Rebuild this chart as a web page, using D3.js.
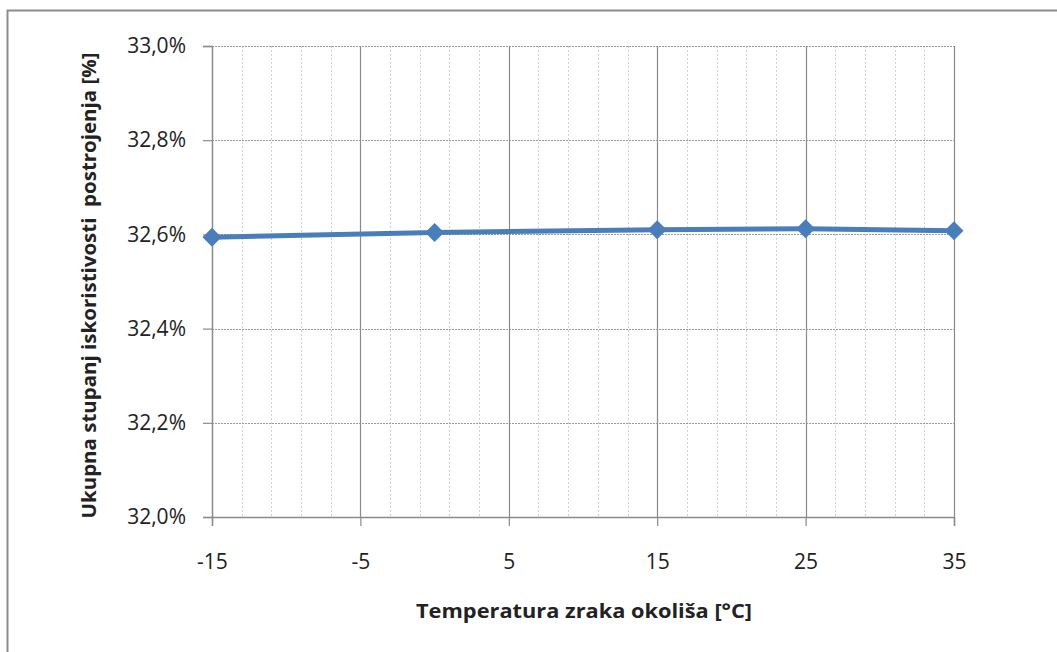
<!DOCTYPE html>
<html>
<head>
<meta charset="utf-8">
<script src="https://cdn.jsdelivr.net/npm/d3@7"></script>
<style>
  html, body { margin: 0; padding: 0; background: #fff; }
  svg { display: block; }
  text { font-family: "Open Sans", "Noto Sans", sans-serif; fill: #222; }
</style>
</head>
<body>
<svg id="chart" width="1057" height="652"></svg>
<script>
// Data
const temperatures = [-15, 0, 15, 25, 35];
const efficiency = [32.594, 32.604, 32.610, 32.612, 32.608];
const xTicks = [-15, -5, 5, 15, 25, 35];
const xMinorTicks = [-13, -11, -9, -7, -3, -1, 1, 3, 7, 9, 11, 13, 17, 19, 21, 23, 27, 29, 31, 33];
const yTicks = [32.0, 32.2, 32.4, 32.6, 32.8, 33.0];
const xTitle = "Temperatura zraka okoliša [°C]";
const yTitle = "Ukupna stupanj iskoristivosti\u00a0\u00a0postrojenja [%]";

const svg = d3.select("#chart");
const plot = { left: 212, right: 954, top: 46, bottom: 517 };

// Outer frame (right/bottom edges lie outside the picture)
svg.append("rect")
  .attr("x", 7.5).attr("y", 10.5)
  .attr("width", 1100).attr("height", 700)
  .attr("fill", "none").attr("stroke", "#8c8c8c").attr("stroke-width", 2);

const x = d3.scaleLinear().domain([-15, 35]).range([plot.left, plot.right]);
const y = d3.scaleLinear().domain([32.0, 33.0]).range([plot.bottom, plot.top]);

// Minor vertical grid
svg.append("g").selectAll("line").data(xMinorTicks).join("line")
  .attr("x1", d => Math.round(x(d)) + 0.5).attr("x2", d => Math.round(x(d)) + 0.5)
  .attr("y1", plot.top).attr("y2", plot.bottom)
  .attr("stroke", "#cfcfcf").attr("stroke-width", 1).attr("stroke-dasharray", "2,2");

// Horizontal grid (dotted)
svg.append("g").selectAll("line").data(yTicks.slice(1)).join("line")
  .attr("x1", plot.left).attr("x2", plot.right)
  .attr("y1", d => Math.round(y(d)) + 0.5).attr("y2", d => Math.round(y(d)) + 0.5)
  .attr("stroke", "#9a9a9a").attr("stroke-width", 1).attr("stroke-dasharray", "2,1");

// Major vertical grid (solid)
svg.append("g").selectAll("line").data(xTicks.slice(1)).join("line")
  .attr("x1", d => Math.round(x(d)) + 0.5).attr("x2", d => Math.round(x(d)) + 0.5)
  .attr("y1", plot.top).attr("y2", plot.bottom)
  .attr("stroke", "#8a8a8a").attr("stroke-width", 1.2);

// Axes
const fmtPct = d => d.toFixed(1).replace(".", ",") + "%";
const yAxis = d3.axisLeft(y).tickValues(yTicks).tickFormat(fmtPct).tickSize(9).tickPadding(17);
const gy = svg.append("g").attr("transform", `translate(${plot.left},0)`).call(yAxis);
gy.select(".domain").attr("stroke", "#8a8a8a").attr("stroke-width", 1.5);
gy.selectAll(".tick line").attr("stroke", "#8a8a8a").attr("stroke-width", 1.2);
gy.selectAll(".tick text").attr("font-size", 21).attr("fill", "#222")
  .attr("font-family", "'Open Sans', sans-serif");

const xAxis = d3.axisBottom(x).tickValues(xTicks).tickFormat(d => String(d)).tickSize(9).tickPadding(28);
const gx = svg.append("g").attr("transform", `translate(0,${plot.bottom})`).call(xAxis);
gx.select(".domain").attr("stroke", "#8a8a8a").attr("stroke-width", 1.5);
gx.selectAll(".tick line").attr("stroke", "#8a8a8a").attr("stroke-width", 1.2);
gx.selectAll(".tick text").attr("font-size", 21).attr("fill", "#222")
  .attr("font-family", "'Open Sans', sans-serif");

// Line
const pts = temperatures.map((t, i) => [t, efficiency[i]]);
svg.append("path")
  .datum(pts)
  .attr("fill", "none")
  .attr("stroke", "#4A7EBB")
  .attr("stroke-width", 5)
  .attr("stroke-linejoin", "round")
  .attr("d", d3.line().x(d => x(d[0])).y(d => y(d[1])));

// Diamond markers
const diamond = d3.symbol().type(d3.symbolDiamond2).size(230);
svg.append("g").selectAll("path").data(pts).join("path")
  .attr("transform", d => `translate(${x(d[0])},${y(d[1])})`)
  .attr("d", diamond)
  .attr("fill", "#4A7EBB");

// Titles
svg.append("text")
  .attr("x", 584).attr("y", 618)
  .attr("text-anchor", "middle")
  .attr("font-size", 20).attr("font-weight", "bold")
  .attr("textLength", 336).attr("lengthAdjust", "spacingAndGlyphs")
  .text(xTitle);

svg.append("text")
  .attr("transform", `translate(96,${(plot.top + plot.bottom) / 2 + 4}) rotate(-90)`)
  .attr("text-anchor", "middle")
  .attr("font-size", 20).attr("font-weight", "bold")
  .attr("textLength", 466).attr("lengthAdjust", "spacingAndGlyphs")
  .text(yTitle);
</script>
</body>
</html>
